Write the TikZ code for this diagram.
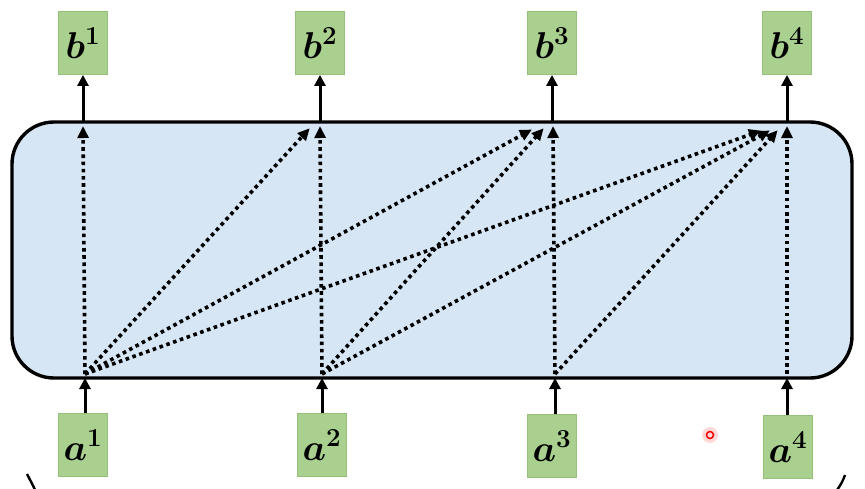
\documentclass[tikz,border=0pt]{standalone}
\usepackage{amsmath,bm,graphicx}
\usetikzlibrary{arrows.meta}
\definecolor{boxgreen}{RGB}{169,208,142}
\definecolor{boxgreenedge}{RGB}{150,192,122}
\definecolor{panelblue}{RGB}{214,230,244}
\newcommand{\vlab}[2]{\scalebox{1.5}{$\bm{#1}^{\bm{#2}}$}}
\tikzset{
  vec/.style={draw=boxgreenedge, fill=boxgreen, line width=0.8pt, minimum width=49pt, minimum height=63pt, inner sep=0pt, font=\fontsize{26}{26}\selectfont},
  solidarrow/.style={line width=3pt, -{Triangle[length=11pt,width=11pt]}},
  dotarrow/.style={line width=3.6pt, dash pattern=on 3.6pt off 3.6pt, -{Triangle[length=12pt,width=11pt]}, shorten >=-1pt},
}
\begin{document}
\begin{tikzpicture}[x=1pt,y=-1pt]
\useasboundingbox (0,0) rectangle (865,488);
% panel
\draw[line width=3.4pt, fill=panelblue, rounded corners=42pt] (12,122) rectangle (852,378);
\coordinate (p1b) at (85,378); \coordinate (p2b) at (322,378);
\coordinate (p3b) at (555,378); \coordinate (p4b) at (787,378);
\coordinate (p1t) at (83,122); \coordinate (p2t) at (320,122);
\coordinate (p3t) at (552,122); \coordinate (p4t) at (787,122);
% boxes
\node[vec] (b1) at (83,43) {\vlab{b}{1}};
\node[vec] (b2) at (320,43) {\vlab{b}{2}};
\node[vec] (b3) at (552,43) {\vlab{b}{3}};
\node[vec] (b4) at (787,43) {\vlab{b}{4}};
\node[vec] (a1) at (83,445) {\vlab{a}{1}};
\node[vec] (a2) at (322,445) {\vlab{a}{2}};
\node[vec] (a3) at (552,446) {\vlab{a}{3}};
\node[vec] (a4) at (788,447) {\vlab{a}{4}};
% solid arrows
\draw[solidarrow] (a1.north -| p1b) -- (p1b);
\draw[solidarrow] (a2.north -| p2b) -- (p2b);
\draw[solidarrow] (a3.north -| p3b) -- (p3b);
\draw[solidarrow] (a4.north -| p4b) -- (p4b);
\draw[solidarrow] (p1t) -- (b1.south);
\draw[solidarrow] (p2t) -- (b2.south);
\draw[solidarrow] (p3t) -- (b3.south);
\draw[solidarrow] (p4t) -- (b4.south);
% dotted attention arrows
\coordinate (s1) at (85,374); \coordinate (s2) at (322,374);
\coordinate (s3) at (555,374); \coordinate (s4) at (787,374);
\coordinate (t11) at (83,127);
\coordinate (t12) at (309,129); \coordinate (t22) at (320,127);
\coordinate (t13) at (531,130); \coordinate (t23) at (543,129); \coordinate (t33) at (553,127);
\coordinate (t14) at (760,131); \coordinate (t24) at (769,131); \coordinate (t34) at (777,131); \coordinate (t44) at (787,127);
\draw[dotarrow] (s1) -- (t11);
\draw[dotarrow] (s1) -- (t12);
\draw[dotarrow] (s1) -- (t13);
\draw[dotarrow] (s1) -- (t14);
\draw[dotarrow] (s2) -- (t22);
\draw[dotarrow] (s2) -- (t23);
\draw[dotarrow] (s2) -- (t24);
\draw[dotarrow] (s3) -- (t33);
\draw[dotarrow] (s3) -- (t34);
\draw[dotarrow] (s4) -- (t44);
% laser pointer dot
\fill[red!30, opacity=0.5] (710,435) circle (8pt);
\draw[red, line width=1.5pt, fill=red!15] (710,435) circle (3.5pt);
% brace ends at bottom
\draw[line width=2.4pt] (27,474) .. controls (30,480) and (33,485) .. (35,490);
\draw[line width=2.4pt] (845,475) .. controls (843,481) and (840,486) .. (837,490);
\end{tikzpicture}
\end{document}
